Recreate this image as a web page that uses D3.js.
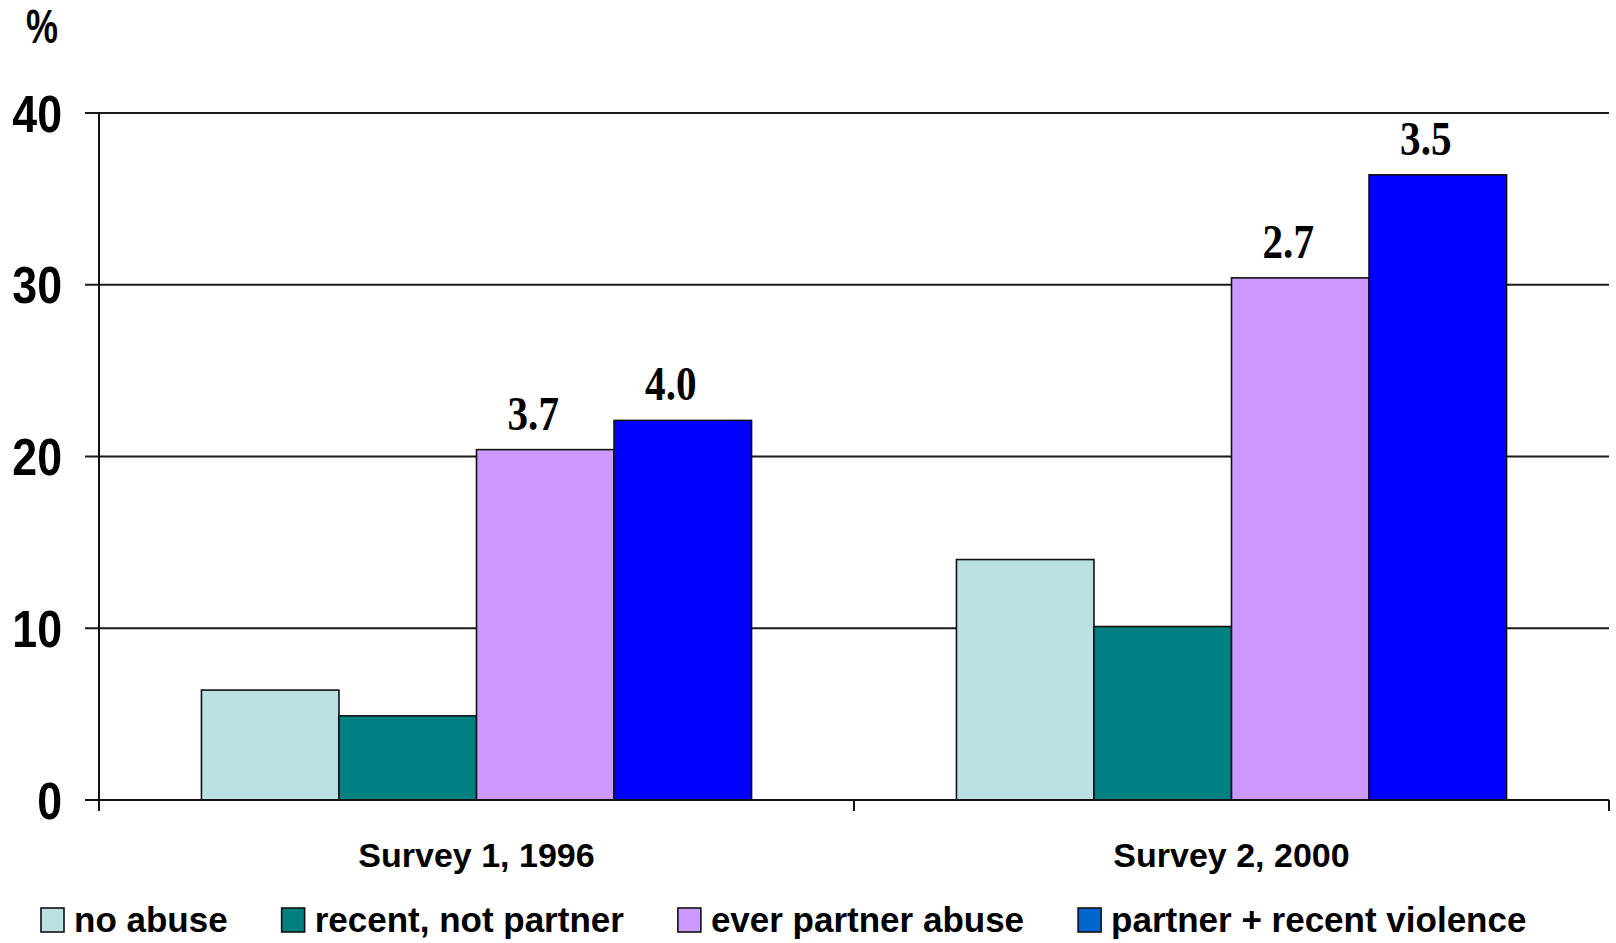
<!DOCTYPE html>
<html>
<head>
<meta charset="utf-8">
<script src="https://cdn.jsdelivr.net/npm/d3@7"></script>
<style>
  html, body { margin: 0; padding: 0; background: #fff; }
  svg { display: block; }
</style>
</head>
<body>
<svg id="chart" width="1616" height="943"></svg>
<script>
// ---- data ----
const categories = ["Survey 1, 1996", "Survey 2, 2000"];
const seriesNames = ["no abuse", "recent, not partner", "ever partner abuse", "partner + recent violence"];
const noAbuse = [6.4, 14.0];
const recentNotPartner = [4.9, 10.1];
const everPartnerAbuse = [20.4, 30.4];
const partnerRecentViolence = [22.1, 36.4];
const everPartnerLabels = ["3.7", "2.7"];
const partnerRecentLabels = ["4.0", "3.5"];
const yTicks = [0, 10, 20, 30, 40];
const yAxisTitle = "%";

// ---- styles ----
const barColors = ["#BBE0E3", "#008080", "#CC99FF", "#0000FF"];
const legendColors = ["#BBE0E3", "#008080", "#CC99FF", "#0066CC"];
const sans = "'Liberation Sans', Arial, sans-serif";
const serif = "'Liberation Serif', 'Times New Roman', serif";

const seriesValues = [noAbuse, recentNotPartner, everPartnerAbuse, partnerRecentViolence];
const seriesLabels = [null, null, everPartnerLabels, partnerRecentLabels];

const svg = d3.select("#chart");
const plotLeft = 99, plotRight = 1609, plotTop = 113, plotBottom = 800;

const y = d3.scaleLinear().domain([0, 40]).range([plotBottom, plotTop]);
const x0 = d3.scaleBand().domain(categories).range([plotLeft, plotRight]).padding(0);
const x1 = d3.scaleBand().domain(d3.range(seriesNames.length))
  .range([0, x0.bandwidth()]).paddingInner(0).paddingOuter(0.745);

// gridlines + y ticks
svg.append("g").selectAll("line").data(yTicks).join("line")
  .attr("x1", plotLeft - 14).attr("x2", plotRight)
  .attr("y1", d => y(d)).attr("y2", d => y(d))
  .attr("stroke", "#1a1a1a").attr("stroke-width", 2);

// bars
const groups = svg.append("g").selectAll("g").data(categories).join("g")
  .attr("transform", c => `translate(${x0(c)},0)`);

groups.selectAll("rect")
  .data((c, ci) => seriesValues.map((vals, si) => ({ si, v: vals[ci] })))
  .join("rect")
  .attr("x", d => x1(d.si))
  .attr("width", x1.bandwidth())
  .attr("y", d => y(d.v))
  .attr("height", d => y(0) - y(d.v))
  .attr("fill", d => barColors[d.si])
  .attr("stroke", "#111")
  .attr("stroke-width", 1.6);

// value labels
groups.selectAll("text.val")
  .data((c, ci) => seriesValues.map((vals, si) => ({ si, v: vals[ci], lab: seriesLabels[si] ? seriesLabels[si][ci] : null })).filter(d => d.lab))
  .join("text")
  .attr("class", "val")
  .attr("transform", d => `translate(${x1(d.si) + x1.bandwidth() / 2 - 12},${y(d.v) - 20}) scale(0.84,1)`)
  .attr("text-anchor", "middle")
  .attr("font-family", serif)
  .attr("font-weight", "bold")
  .attr("font-size", 49)
  .attr("fill", "#000")
  .text(d => d.lab);

// y axis line
svg.append("line")
  .attr("x1", plotLeft).attr("x2", plotLeft).attr("y1", plotTop).attr("y2", plotBottom + 11)
  .attr("stroke", "#111").attr("stroke-width", 2);

// x axis line + category ticks
svg.append("line")
  .attr("x1", plotLeft - 14).attr("x2", plotRight).attr("y1", plotBottom).attr("y2", plotBottom)
  .attr("stroke", "#111").attr("stroke-width", 2);
const xTickPos = categories.map(c => x0(c)).concat([x0(categories[categories.length - 1]) + x0.bandwidth()]);
svg.append("g").selectAll("line").data(xTickPos).join("line")
  .attr("x1", d => d).attr("x2", d => d)
  .attr("y1", plotBottom).attr("y2", plotBottom + 11)
  .attr("stroke", "#111").attr("stroke-width", 2);

// y tick labels
svg.append("g").selectAll("text").data(yTicks).join("text")
  .attr("transform", d => `translate(62,${y(d) + 18.5}) scale(0.86,1)`)
  .attr("text-anchor", "end")
  .attr("font-family", sans)
  .attr("font-weight", "bold")
  .attr("font-size", 52)
  .attr("fill", "#000")
  .text(d => d);

// y axis title
svg.append("text")
  .attr("transform", "translate(42,43) scale(0.75,1)")
  .attr("text-anchor", "middle")
  .attr("font-family", sans)
  .attr("font-weight", "bold")
  .attr("font-size", 48)
  .attr("fill", "#000")
  .text(yAxisTitle);

// category labels
svg.append("g").selectAll("text").data(categories).join("text")
  .attr("x", c => x0(c) + x0.bandwidth() / 2)
  .attr("y", 867)
  .attr("text-anchor", "middle")
  .attr("font-family", sans)
  .attr("font-weight", "bold")
  .attr("font-size", 34)
  .attr("fill", "#000")
  .text(c => c);

// legend
const legend = svg.append("g");
let lx = 41;
seriesNames.forEach((name, i) => {
  legend.append("rect")
    .attr("x", lx).attr("y", 908).attr("width", 23).attr("height", 24)
    .attr("fill", legendColors[i]).attr("stroke", "#111").attr("stroke-width", 1.6);
  const t = legend.append("text")
    .attr("x", lx + 33).attr("y", 932)
    .attr("font-family", sans)
    .attr("font-weight", "bold")
    .attr("font-size", 35)
    .attr("fill", "#000")
    .text(name);
  lx = lx + 33 + t.node().getComputedTextLength() + 54;
});
</script>
</body>
</html>
